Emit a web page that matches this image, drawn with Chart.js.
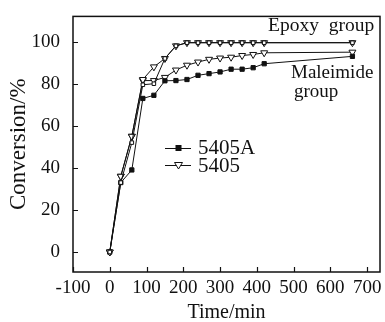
<!DOCTYPE html>
<html lang="en">

<head>
  <meta charset="UTF-8">
  <script src="https://cdn.jsdelivr.net/npm/chart.js@4.4.1/dist/chart.umd.min.js"></script>
  <title>Conversion vs time</title>
  <style>
    html, body { margin: 0; padding: 0; background: #fff; }
    #wrap { width: 385px; height: 322px; }
  </style>
</head>

<body>
  <div id="wrap"><canvas id="myChart" width="385" height="322"></canvas></div>
  <script>
    // time points, min
    const times = [0, 30, 60, 90, 120, 150, 180, 210, 240, 270, 300, 330, 360, 390, 420, 660];
    // conversion, %
    const epoxy5405A = [0, 33, 52, 79.5, 80, 92, 98, 99.5, 99.5, 99.5, 99.5, 99.5, 99.5, 99.5, 99.5, 99.5];
    const epoxy5405 = [0, 36, 55, 82, 88, 92, 98, 99.5, 99.5, 99.5, 99.5, 99.5, 99.5, 99.5, 99.5, 99.5];
    const male5405A = [0, 33, 39, 73, 74.5, 81.4, 81.5, 82, 84, 84.8, 85.6, 86.9, 86.9, 87.6, 89.5, 93];
    const male5405 = [0, 36, 55, 81.5, 81.5, 83, 86.5, 88.8, 90.3, 91.6, 92.2, 92.6, 93.4, 93.9, 94.7, 95];
    const xTicks = [-100, 0, 100, 200, 300, 400, 500, 600, 700];
    const yTicks = [0, 20, 40, 60, 80, 100];

    const serif = "'Liberation Serif', 'DejaVu Serif', serif";

    function pts(vals) {
      return times.map((t, i) => ({ x: t, y: vals[i] }));
    }

    function series(label, vals, style, fill, r) {
      return {
        label: label,
        data: pts(vals),
        showLine: true,
        borderColor: '#111',
        borderWidth: 1,
        pointStyle: style,
        rotation: style === 'triangle' ? 180 : 0,
        pointRadius: r,
        pointBorderWidth: 1,
        pointBackgroundColor: fill,
        pointBorderColor: '#111'
      };
    }

    // draws frame, inward ticks, legend and the group labels
    const decor = {
      id: 'decor',
      afterDraw(chart) {
        const ctx = chart.ctx;
        const a = chart.chartArea;
        const xs = chart.scales.x;
        const ys = chart.scales.y;
        ctx.save();
        ctx.strokeStyle = '#111';
        ctx.lineWidth = 1.5;
        ctx.strokeRect(a.left, a.top, a.right - a.left, a.bottom - a.top);
        ctx.lineWidth = 1.2;
        ctx.beginPath();
        xTicks.forEach(v => {
          const px = Math.round(xs.getPixelForValue(v)) + 0.5;
          ctx.moveTo(px, a.bottom);
          ctx.lineTo(px, a.bottom - 5);
        });
        yTicks.forEach(v => {
          const py = Math.round(ys.getPixelForValue(v)) + 0.5;
          ctx.moveTo(a.left, py);
          ctx.lineTo(a.left + 5, py);
        });
        ctx.stroke();

        // legend
        ctx.lineWidth = 1;
        ctx.beginPath();
        ctx.moveTo(165, 148.5); ctx.lineTo(191, 148.5);
        ctx.moveTo(165, 165.5); ctx.lineTo(191, 165.5);
        ctx.stroke();
        ctx.fillStyle = '#111';
        ctx.fillRect(175.5, 145, 6, 6);
        ctx.fillStyle = '#fff';
        ctx.beginPath();
        ctx.moveTo(174.5, 162.5); ctx.lineTo(182.5, 162.5); ctx.lineTo(178.5, 169);
        ctx.closePath();
        ctx.fill(); ctx.stroke();

        ctx.fillStyle = '#111';
        ctx.font = '21px ' + serif;
        ctx.textBaseline = 'alphabetic';
        ctx.fillText('5405A', 198, 154);
        ctx.fillText('5405', 198, 172);

        ctx.font = '19.5px ' + serif;
        ctx.fillText('Epoxy  group', 268, 31);
        ctx.font = '19px ' + serif;
        ctx.fillText('Maleimide', 291, 78);
        ctx.fillText('group', 294, 97);
        ctx.restore();
      }
    };

    new Chart('myChart', {
      type: 'scatter',
      data: {
        datasets: [
          series('5405A epoxy', epoxy5405A, 'rect', '#fff', 2.5),
          series('5405 epoxy', epoxy5405, 'triangle', '#fff', 4),
          series('5405A maleimide', male5405A, 'rect', '#111', 3),
          series('5405 maleimide', male5405, 'triangle', '#fff', 4)
        ]
      },
      options: {
        responsive: false,
        animation: false,
        layout: { padding: { top: 13, right: 5, left: 0, bottom: 0 } },
        plugins: {
          legend: { display: false },
          tooltip: { enabled: false }
        },
        scales: {
          x: {
            type: 'linear',
            min: -100,
            max: 735,
            afterBuildTicks: s => { s.ticks = xTicks.map(v => ({ value: v })); },
            afterFit: s => { s.height = 50; },
            grid: { display: false },
            border: { display: false },
            ticks: { color: '#111', font: { family: serif, size: 19 }, padding: -3, maxRotation: 0 },
            title: { display: true, text: 'Time/min', color: '#111', font: { family: serif, size: 20 }, padding: { top: 0, bottom: -3 } }
          },
          y: {
            min: -9.5,
            max: 112,
            afterBuildTicks: s => { s.ticks = yTicks.map(v => ({ value: v })); },
            afterFit: s => { s.width = 73; },
            grid: { display: false },
            border: { display: false },
            ticks: { color: '#111', font: { family: serif, size: 19 }, padding: 5 },
            title: { display: true, text: 'Conversion/%', color: '#111', font: { family: serif, size: 23 }, padding: { top: 5, bottom: 0 } }
          }
        }
      },
      plugins: [decor]
    });
  </script>
</body>

</html>
